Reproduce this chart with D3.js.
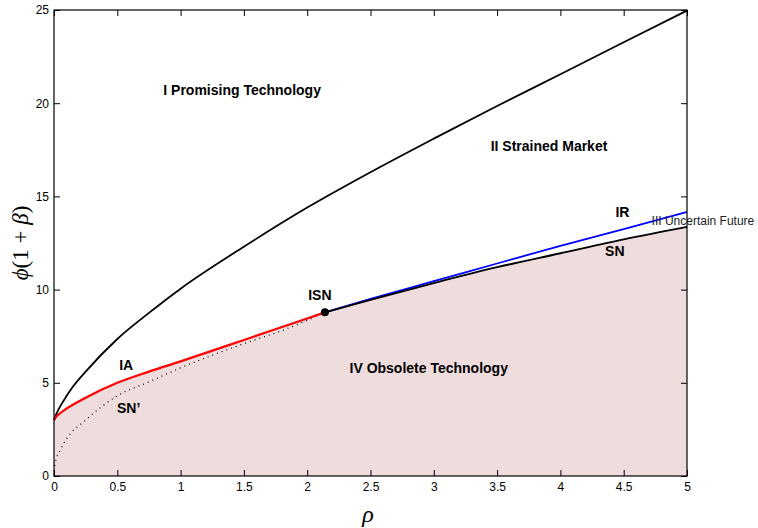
<!DOCTYPE html>
<html>
<head>
<meta charset="utf-8">
<script src="https://cdn.jsdelivr.net/npm/d3@7"></script>
<style>
  body { margin: 0; background: #fff; }
  svg text { font-family: "Liberation Sans", Arial, sans-serif; }
  .lbl { font-weight: bold; font-size: 14px; }
  .math { font-family: "Liberation Serif", "DejaVu Serif", serif; }
</style>
</head>
<body>
<svg id="chart" width="758" height="528"></svg>
<script>
// curve values
const promRho = [0, 0.02, 0.05, 0.1, 0.15, 0.25, 0.5, 0.75, 1, 1.5, 2, 2.5, 3, 3.5, 4, 4.5, 5];
const promVal = [3, 3.35, 3.75, 4.3, 4.8, 5.6, 7.35, 8.75, 10.05, 12.3, 14.4, 16.3, 18.1, 19.85, 21.55, 23.27, 24.97];

const iaRho = [0, 0.02, 0.05, 0.1, 0.25, 0.5, 0.75, 1, 1.5, 2, 2.14];
const iaVal = [3, 3.2, 3.38, 3.62, 4.2, 5.0, 5.6, 6.15, 7.3, 8.45, 8.78];

const snpRho = [0, 0.01, 0.05, 0.1, 0.25, 0.5, 0.75, 1, 1.5, 1.8, 2, 2.14];
const snpVal = [0, 0.7, 1.4, 2.0, 3.0, 4.3, 5.05, 5.8, 7.1, 7.8, 8.35, 8.78];

const snRho = [2.14, 2.5, 3, 3.5, 4, 4.5, 5];
const snVal = [8.78, 9.45, 10.35, 11.2, 11.95, 12.7, 13.37];

const irRho = [2.14, 2.5, 3, 3.5, 4, 4.5, 5];
const irVal = [8.78, 9.5, 10.45, 11.4, 12.35, 13.25, 14.16];

const isnPoint = [2.14, 8.78];

const xTicks = [0, 0.5, 1, 1.5, 2, 2.5, 3, 3.5, 4, 4.5, 5];
const yTicks = [0, 5, 10, 15, 20, 25];

const zip = (a, b) => a.map((v, i) => [v, b[i]]);

const svg = d3.select("#chart");
const margin = { left: 54, right: 71, top: 10, bottom: 52 };
const W = 758, H = 528;

const x = d3.scaleLinear().domain([0, 5]).range([margin.left, W - margin.right]);
const y = d3.scaleLinear().domain([0, 25]).range([H - margin.bottom, margin.top]);

const line = d3.line().x(d => x(d[0])).y(d => y(d[1])).curve(d3.curveMonotoneX);

// shaded region IV: under IA up to ISN, then under SN
const lower = zip(iaRho, iaVal).concat(zip(snRho, snVal).slice(1));
svg.append("path")
  .datum(lower)
  .attr("fill", "#efdcdd")
  .attr("d", d3.area().x(d => x(d[0])).y0(y(0)).y1(d => y(d[1])).curve(d3.curveMonotoneX));

// curves
svg.append("path").datum(zip(snpRho, snpVal))
  .attr("fill", "none").attr("stroke", "#000").attr("stroke-width", 1.2)
  .attr("stroke-dasharray", "1,4").attr("d", line);

svg.append("path").datum(zip(promRho, promVal))
  .attr("fill", "none").attr("stroke", "#000").attr("stroke-width", 1.8).attr("d", line);

svg.append("path").datum(zip(irRho, irVal))
  .attr("fill", "none").attr("stroke", "#0000ff").attr("stroke-width", 1.8).attr("d", line);

svg.append("path").datum(zip(snRho, snVal))
  .attr("fill", "none").attr("stroke", "#000").attr("stroke-width", 1.8).attr("d", line);

svg.append("path").datum(zip(iaRho, iaVal))
  .attr("fill", "none").attr("stroke", "#ff0000").attr("stroke-width", 2.2).attr("d", line);

svg.append("circle")
  .attr("cx", x(isnPoint[0])).attr("cy", y(isnPoint[1])).attr("r", 4)
  .attr("fill", "#000");

// axes (matlab style box with inward ticks)
const tickLen = 6;
svg.append("g").attr("transform", `translate(0,${y(0)})`)
  .call(d3.axisBottom(x).tickValues(xTicks).tickSizeInner(-tickLen).tickSizeOuter(0).tickPadding(6).tickFormat(d3.format("")))
  .call(g => g.select(".domain").remove());
svg.append("g").attr("transform", `translate(0,${y(25)})`)
  .call(d3.axisTop(x).tickValues(xTicks).tickSizeInner(-tickLen).tickSizeOuter(0).tickFormat(""))
  .call(g => g.select(".domain").remove());
svg.append("g").attr("transform", `translate(${x(0)},0)`)
  .call(d3.axisLeft(y).tickValues(yTicks).tickSizeInner(-tickLen).tickSizeOuter(0).tickPadding(5))
  .call(g => g.select(".domain").remove());
svg.append("g").attr("transform", `translate(${x(5)},0)`)
  .call(d3.axisRight(y).tickValues(yTicks).tickSizeInner(-tickLen).tickSizeOuter(0).tickFormat(""))
  .call(g => g.select(".domain").remove());

svg.selectAll(".tick text").style("font-size", "12px").style("font-family", "Liberation Sans, Arial, sans-serif").attr("fill", "#000");
svg.selectAll(".tick line").attr("stroke", "#000");

svg.append("rect")
  .attr("x", x(0)).attr("y", y(25))
  .attr("width", x(5) - x(0)).attr("height", y(0) - y(25))
  .attr("fill", "none").attr("stroke", "#000").attr("stroke-width", 1.2);

// region labels, centred
const labels = [
  ["I Promising Technology", 1.486, 20.45],
  ["II Strained Market", 3.91, 17.43],
  ["IR", 4.49, 13.9],
  ["SN", 4.43, 11.8],
  ["ISN", 2.10, 9.44],
  ["IA", 0.57, 5.69],
  ["SN\u2019", 0.59, 3.38],
  ["IV Obsolete Technology", 2.96, 5.53]
];
svg.selectAll("text.region").data(labels).enter().append("text")
  .attr("class", "region lbl")
  .attr("x", d => x(d[1])).attr("y", d => y(d[2]))
  .attr("text-anchor", "middle")
  .attr("fill", "#000")
  .text(d => d[0]);

svg.append("text")
  .attr("x", x(4.72)).attr("y", y(13.47))
  .style("font-size", "12px").attr("fill", "#222")
  .text("III Uncertain Future");

// axis titles
svg.append("text").attr("class", "math")
  .attr("x", 368).attr("y", 522)
  .attr("text-anchor", "middle")
  .style("font-size", "24px").style("font-style", "italic")
  .text("\u03C1");

const yl = svg.append("text").attr("class", "math")
  .attr("transform", "translate(28,243) rotate(-90)")
  .attr("text-anchor", "middle")
  .style("font-size", "23px");
yl.append("tspan").style("font-style", "italic").text("\u03D5");
yl.append("tspan").text("(1 + ");
yl.append("tspan").style("font-style", "italic").text("\u03B2");
yl.append("tspan").text(")");
</script>
</body>
</html>
